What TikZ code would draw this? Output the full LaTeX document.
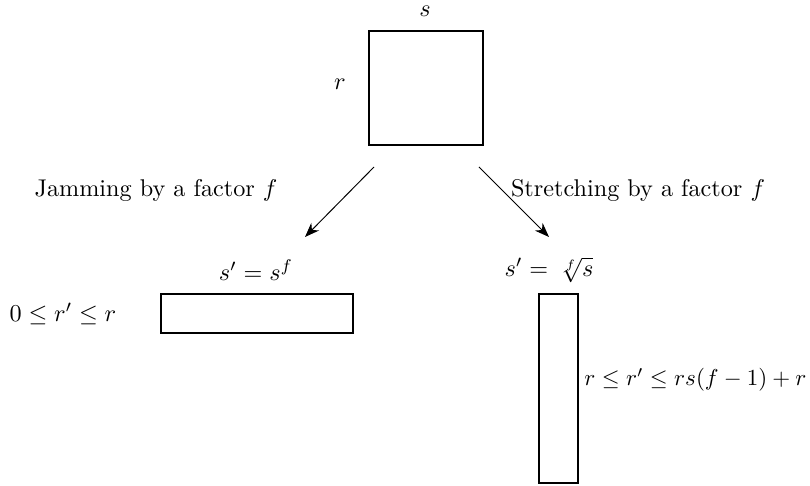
\documentclass[tikz,border=0pt]{standalone}
\usetikzlibrary{arrows.meta}
\begin{document}
\begin{tikzpicture}[x=0.4132pt,y=-0.4132pt,
  box/.style={draw,line width=0.8pt,inner sep=0pt},
  lbl/.style={inner sep=0pt},
  conn/.style={line width=0.4pt,-{Stealth[length=6pt,width=4.5pt]}}]
\useasboundingbox (0,0) rectangle (810,486);
% top square
\node[box,minimum width=114*0.4132pt,minimum height=114*0.4132pt] (sq) at (426,88) {};
\node[lbl] (ls) at (425,11) {$s$};
\node[lbl] (lr) at (340,84) {$r$};
% arrows
\coordinate (a1) at (374,167);
\coordinate (a2) at (305,237);
\coordinate (b1) at (479,167);
\coordinate (b2) at (549,237);
\draw[conn] (a1) -- (a2);
\draw[conn] (b1) -- (b2);
\node[lbl] (jam) at (156,190) {Jamming by a factor $f$};
\node[lbl] (str) at (638,190) {Stretching by a factor $f$};
% left rect
\node[box,minimum width=192*0.4132pt,minimum height=39*0.4132pt] (lrect) at (257,313.5) {};
\node[lbl] (lsf) at (256,270) {$s'=s^f$};
\node[lbl] (lrr) at (63,314) {$0\le r'\le r$};
% right rect
\node[box,minimum width=39*0.4132pt,minimum height=189*0.4132pt] (rrect) at (558.5,388.5) {};
\node[lbl] (rsf) at (549,270) {$s'=\,\sqrt[f]{s}$};
\node[lbl,anchor=west,scale=0.95] (rrr) at (584,380) {$r\le r'\le rs(f-1)+r$};
\end{tikzpicture}
\end{document}
